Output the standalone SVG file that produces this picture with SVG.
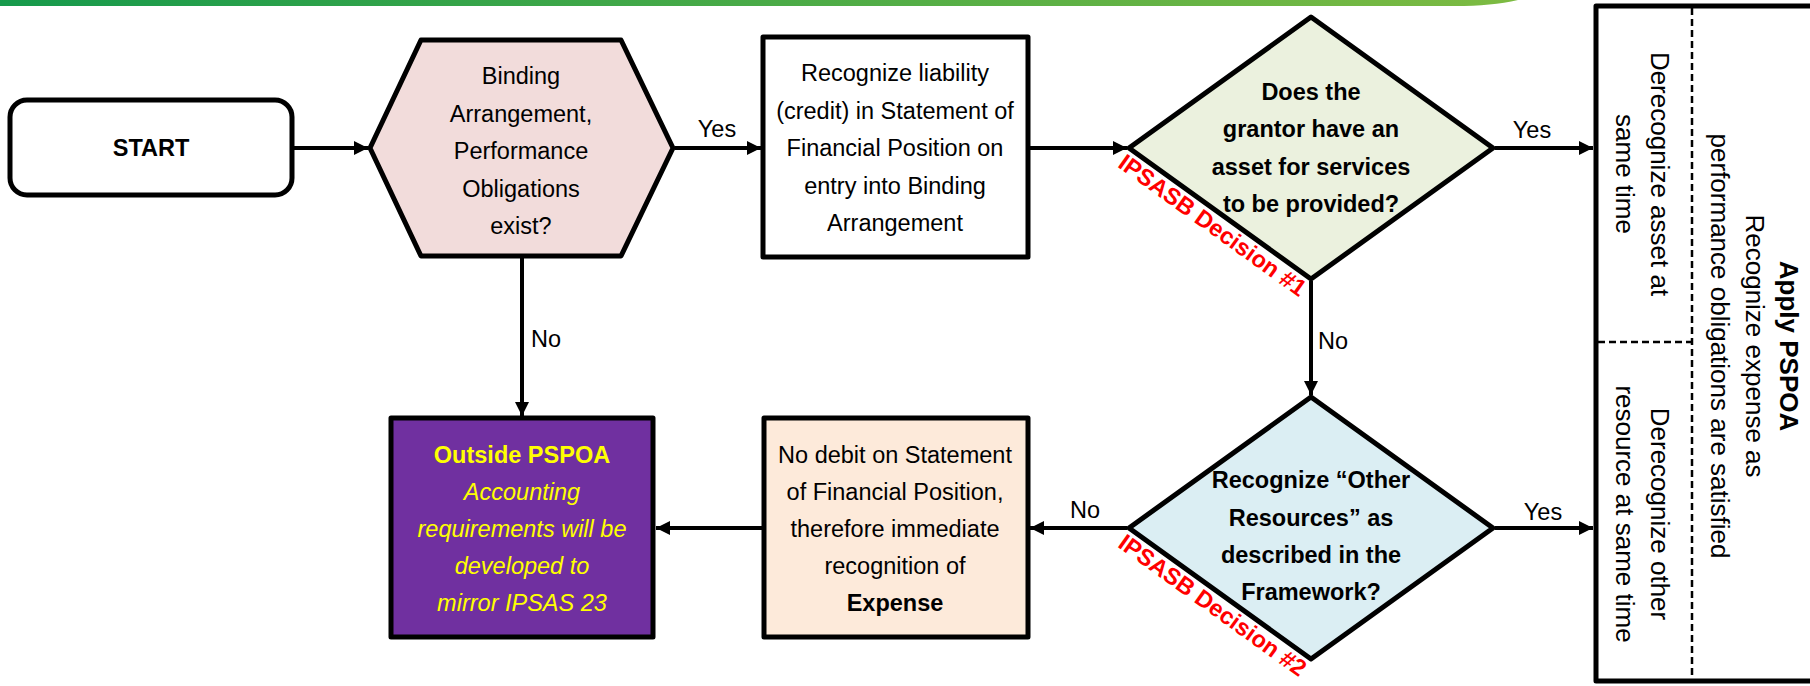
<svg xmlns="http://www.w3.org/2000/svg" width="1810" height="686" viewBox="0 0 1810 686">
<defs>
<linearGradient id="bar" x1="0" y1="0" x2="1" y2="0">
<stop offset="0" stop-color="#169a4c"/>
<stop offset="1" stop-color="#7dbb42"/>
</linearGradient>
<marker id="ah" markerUnits="userSpaceOnUse" markerWidth="15" markerHeight="14" refX="14" refY="7" orient="auto">
<path d="M0,0 L14,7 L0,14 Z" fill="#000"/>
</marker>
<style>
text{font-family:"Liberation Sans",Arial,sans-serif;fill:#000}
.t{font-size:23.5px;text-anchor:middle}
.b{font-weight:bold}
.i{font-style:italic}
.lbl{font-size:23.5px}
.node{stroke:#000;stroke-width:5;stroke-linejoin:round}
.con{stroke:#000;stroke-width:4;fill:none;marker-end:url(#ah)}
.red{font-size:23.5px;font-weight:bold;fill:#ff0000;text-anchor:middle}
.yel{fill:#ffff00}
.p{font-size:26px;text-anchor:middle}
.dash{stroke:#000;stroke-width:2.5;stroke-dasharray:7,4;fill:none}
</style>
</defs>
<rect width="1810" height="686" fill="#fff"/>
<path d="M0,0 H1518 C1500,4 1480,6 1455,6 H0 Z" fill="url(#bar)"/>

<g id="connectors">
<line class="con" x1="294" y1="148" x2="368" y2="148"/>
<line class="con" x1="675" y1="148" x2="761" y2="148"/>
<text class="lbl" x="717" y="137" text-anchor="middle">Yes</text>
<line class="con" x1="1030" y1="148" x2="1127" y2="148"/>
<line class="con" x1="1495" y1="148" x2="1593" y2="148"/>
<text class="lbl" x="1532" y="138" text-anchor="middle">Yes</text>
<line class="con" x1="1311" y1="281" x2="1311" y2="395"/>
<text class="lbl" x="1318" y="349">No</text>
<line class="con" x1="1495" y1="528" x2="1593" y2="528"/>
<text class="lbl" x="1543" y="520" text-anchor="middle">Yes</text>
<line class="con" x1="1127" y1="528" x2="1030" y2="528"/>
<text class="lbl" x="1085" y="518" text-anchor="middle">No</text>
<line class="con" x1="762" y1="528" x2="656" y2="528"/>
<line class="con" x1="522" y1="258" x2="522" y2="416"/>
<text class="lbl" x="531" y="347">No</text>
</g>

<g id="start">
<rect class="node" x="10" y="100" width="282" height="95" rx="17" fill="#fff"/>
<text class="t b" x="151" y="156">START</text>
</g>

<g id="binding">
<polygon class="node" points="370,148 421,40 621,40 673,148 621,256 421,256" fill="#f2dcdb"/>
<text class="t" x="521" y="84">Binding</text>
<text class="t" x="521" y="121.5">Arrangement,</text>
<text class="t" x="521" y="159">Performance</text>
<text class="t" x="521" y="196.5">Obligations</text>
<text class="t" x="521" y="234">exist?</text>
</g>

<g id="liability">
<rect class="node" x="763" y="37" width="265" height="220" fill="#fff"/>
<text class="t" x="895" y="81">Recognize liability</text>
<text class="t" x="895" y="119">(credit) in Statement of</text>
<text class="t" x="895" y="156">Financial Position on</text>
<text class="t" x="895" y="194">entry into Binding</text>
<text class="t" x="895" y="231">Arrangement</text>
</g>

<g id="decision1">
<polygon class="node" points="1311,17 1493,148 1311,279 1129,148" fill="#ebf1de"/>
<text class="t b" x="1311" y="100">Does the</text>
<text class="t b" x="1311" y="137">grantor have an</text>
<text class="t b" x="1311" y="175">asset for services</text>
<text class="t b" x="1311" y="212">to be provided?</text>
<text class="red" transform="translate(1129,148) rotate(35.75)" x="113" y="22">IPSASB Decision #1</text>
</g>

<g id="decision2">
<polygon class="node" points="1311,397 1493,528 1311,659 1129,528" fill="#dbeef3"/>
<text class="t b" x="1311" y="488">Recognize “Other</text>
<text class="t b" x="1311" y="526">Resources” as</text>
<text class="t b" x="1311" y="563">described in the</text>
<text class="t b" x="1311" y="600">Framework?</text>
<text class="red" transform="translate(1129,528) rotate(35.75)" x="113" y="22">IPSASB Decision #2</text>
</g>

<g id="nodebit">
<rect class="node" x="764" y="418" width="264" height="219" fill="#fdeada"/>
<text class="t" x="895" y="463">No debit on Statement</text>
<text class="t" x="895" y="500">of Financial Position,</text>
<text class="t" x="895" y="537">therefore immediate</text>
<text class="t" x="895" y="574">recognition of</text>
<text class="t b" x="895" y="611">Expense</text>
</g>

<g id="outside">
<rect class="node" x="391" y="418" width="262" height="219" fill="#7030a0"/>
<text class="t b yel" x="522" y="463">Outside PSPOA</text>
<text class="t i yel" x="522" y="500">Accounting</text>
<text class="t i yel" x="522" y="537">requirements will be</text>
<text class="t i yel" x="522" y="574">developed to</text>
<text class="t i yel" x="522" y="611">mirror IPSAS 23</text>
</g>

<g id="pspoa">
<rect class="node" x="1596" y="6" width="240" height="675" fill="#fff"/>
<line class="dash" x1="1692" y1="8" x2="1692" y2="679"/>
<line class="dash" x1="1598" y1="342" x2="1692" y2="342"/>
<g transform="translate(1780,346) rotate(90)">
<text class="p b" x="0" y="0">Apply PSPOA</text>
<text class="p" x="0" y="34.5">Recognize expense as</text>
<text class="p" x="0" y="69">performance obligations are satisfied</text>
</g>
<g transform="translate(1651,174) rotate(90)">
<text class="p" x="0" y="0">Derecognize asset at</text>
<text class="p" x="0" y="35">same time</text>
</g>
<g transform="translate(1651,514) rotate(90)">
<text class="p" x="0" y="0">Derecognize other</text>
<text class="p" x="0" y="35">resource at same time</text>
</g>
</g>
</svg>
